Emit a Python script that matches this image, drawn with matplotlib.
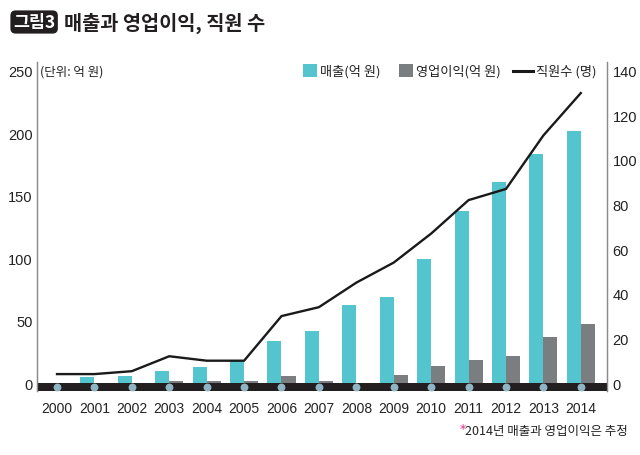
import matplotlib
matplotlib.use("Agg")
import matplotlib.pyplot as plt
from matplotlib import font_manager as fm
import numpy as np

years = ["2000", "2001", "2002", "2003", "2004", "2005", "2006", "2007",
         "2008", "2009", "2010", "2011", "2012", "2013", "2014"]
sales = [0, 5, 5.5, 9.5, 13, 17.5, 34, 42, 62.5, 69, 99, 138, 161, 183.5, 202]
profit = [0, 0, 0, 1.6, 1.6, 1.6, 5.6, 1.6, 0, 6.4, 13.7, 18.5, 21.5, 37, 47]
staff = [4, 4, 5.3, 12, 10, 10, 30, 34, 45, 54, 67, 82, 87, 111, 130]
left_ticks = [0, 50, 100, 150, 200, 250]
right_ticks = [0, 20, 40, 60, 80, 100, 120, 140]

names = {f.name for f in fm.fontManager.ttflist}
narrow = "Liberation Sans Narrow" in names
num_font = "Liberation Sans Narrow" if narrow else "Liberation Sans"
kr = "Noto Sans CJK KR"
plt.rcParams['font.family'] = [num_font, kr, 'DejaVu Sans']

TEAL = "#54c4ce"
GREY = "#7b7e81"
BAND = "#231f20"
DOT = "#8fb5c4"

fig = plt.figure(figsize=(6.4, 4.56), dpi=100)
ax = fig.add_axes([37/640, 1-392/456, (607-37)/640, (392-63)/456])
ax2 = ax.twinx()

x = np.arange(len(years))
bw = 0.375
ax.bar(x, sales, width=-bw, align='edge', color=TEAL, zorder=2)
ax.bar(x, profit, width=bw, align='edge', color=GREY, zorder=2)

ybot = -6.4
ytop = 257
ax.set_ylim(ybot, ytop)
ax.set_xlim(-0.535, 14.7)
ax.axhspan(ybot, 0, color=BAND, zorder=3, lw=0)
ax.scatter(x, np.full(len(x), ybot/2), s=32, color=DOT, zorder=4, lw=0)

ax2.set_ylim(ybot*140/250, ytop*140/250)
ax2.plot(x, staff, color="#1a1a1a", lw=1.7, zorder=5, solid_joinstyle='miter')

tick_fs = 12 if narrow else 10.5
ax.set_xticks(x)
ax.set_xticklabels(years, fontsize=tick_fs - 0.5, family=[num_font, kr])
ax.set_yticks(left_ticks)
ax.set_yticklabels([str(v) for v in left_ticks], fontsize=tick_fs, family=[num_font, kr])
ax2.set_yticks(right_ticks)
ax2.set_yticklabels([str(v) for v in right_ticks], fontsize=tick_fs, family=[num_font, kr])
ax.tick_params(axis='x', length=0, pad=7, colors='#222222')
ax.tick_params(axis='y', length=0, pad=3, colors='#222222')
ax2.tick_params(axis='y', length=0, pad=4, colors='#222222')

for a in (ax, ax2):
    a.spines['top'].set_visible(False)
    a.spines['bottom'].set_visible(False)
    a.spines['left'].set_color('#8a8a8a')
    a.spines['right'].set_color('#8a8a8a')
    a.spines['left'].set_linewidth(0.9)
    a.spines['right'].set_linewidth(0.9)
    a.patch.set_visible(False)
ax2.set_zorder(ax.zorder + 1)

# unit label
fig.text(40/640, 1-72/456, "(단위: 억 원)", fontsize=9, va='center', ha='left',
         family=[kr, 'DejaVu Sans'], color='#222222')

# title
fig.text(13/640, 1-23/456, "그림3", fontsize=12.5, fontweight='bold', color='white',
         va='center', ha='left', family=[kr, 'DejaVu Sans'],
         bbox=dict(boxstyle='round,pad=0.15,rounding_size=0.3', fc='#231f20', ec='none'))
fig.text(64/640, 1-23/456, "매출과 영업이익, 직원 수", fontsize=14.2, fontweight='bold',
         color='#231f20', va='center', ha='left', family=[kr, 'DejaVu Sans'])

# legend (manual)
from matplotlib.patches import Rectangle
from matplotlib.lines import Line2D
ly = 1-72/456
fig.patches.append(Rectangle((303/640, 1-78/456), 14/640, 13/456, transform=fig.transFigure,
                             color=TEAL, lw=0))
fig.text(320/640, ly, "매출(억 원)", fontsize=9.5, va='center', ha='left',
         family=[kr, 'DejaVu Sans'], color='#222222')
fig.patches.append(Rectangle((399/640, 1-78/456), 14/640, 13/456, transform=fig.transFigure,
                             color=GREY, lw=0))
fig.text(416/640, ly, "영업이익(억 원)", fontsize=9.5, va='center', ha='left',
         family=[kr, 'DejaVu Sans'], color='#222222')
fig.lines.append(Line2D([513/640, 533/640], [ly, ly], transform=fig.transFigure,
                        color='#1a1a1a', lw=2.2))
fig.text(536/640, ly, "직원수 (명)", fontsize=9.5, va='center', ha='left',
         family=[kr, 'DejaVu Sans'], color='#222222')

# footnote
fn = fig.text(628/640, 1-432/456, "2014년 매출과 영업이익은 추정", fontsize=9, va='center',
              ha='right', family=[kr, 'DejaVu Sans'], color='#222222')
fig.canvas.draw()
bb = fn.get_window_extent()
fig.text(bb.x0/640 + 0.5/640, 1-430/456, "*", fontsize=9, va='center',
         ha='right', family=['DejaVu Sans'], color='#e0308a')

fig.savefig("out.png", dpi=100)
